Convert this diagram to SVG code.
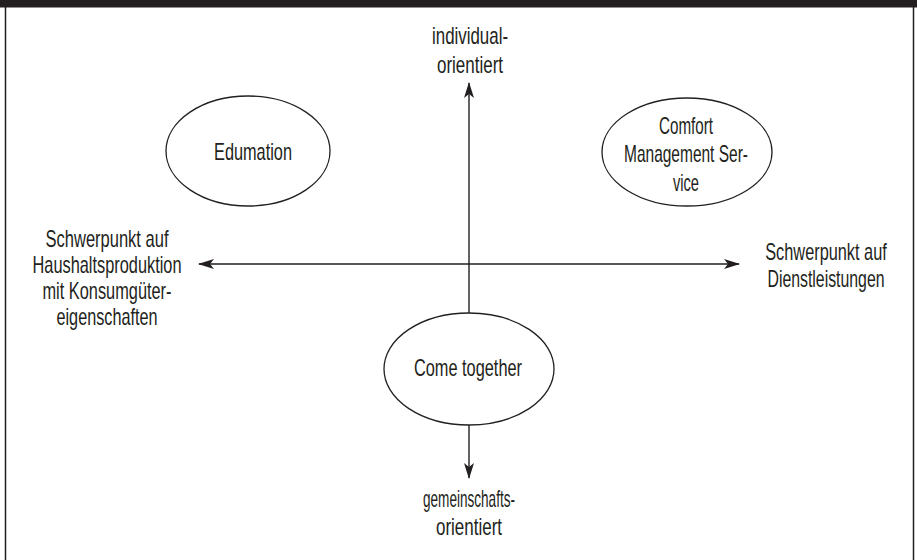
<svg xmlns="http://www.w3.org/2000/svg" width="917" height="560" viewBox="0 0 917 560">
  <style>
    .t { font-family: "Liberation Sans", Arial, sans-serif; font-size: 24px; fill: #231f20; text-anchor: middle; }
    .n { fill: #ffffff; stroke: #231f20; stroke-width: 1.3; }
    .c { fill: none; stroke: #231f20; stroke-width: 1.4; }
  </style>
  <defs>
    <marker id="ah" viewBox="0 0 16 10" refX="15" refY="5" markerWidth="16" markerHeight="10" markerUnits="userSpaceOnUse" orient="auto">
      <path d="M0,0 L16,5 L0,10 L4,5 Z" fill="#231f20"/>
    </marker>
  </defs>
  <rect x="0" y="0" width="917" height="560" fill="#ffffff"/>
  <rect x="0" y="0" width="917" height="7.5" fill="#231f20"/>
  <line x1="5.5" y1="7" x2="5.5" y2="560" stroke="#231f20" stroke-width="1.5"/>
  <line x1="913.5" y1="7" x2="913.5" y2="560" stroke="#231f20" stroke-width="1.5"/>

  <g id="connectors">
    <line class="c" x1="469" y1="313" x2="469" y2="83" marker-end="url(#ah)"/>
    <line class="c" x1="469" y1="425" x2="469" y2="478" marker-end="url(#ah)"/>
    <line class="c" x1="469" y1="264" x2="199" y2="264" marker-end="url(#ah)"/>
    <line class="c" x1="469" y1="264" x2="739" y2="264" marker-end="url(#ah)"/>
  </g>

  <g id="label-top">
    <text class="t" x="470" y="44" textLength="76" lengthAdjust="spacingAndGlyphs">individual-</text>
    <text class="t" x="470" y="73" textLength="66" lengthAdjust="spacingAndGlyphs">orientiert</text>
  </g>
  <g id="label-bottom">
    <text class="t" x="469" y="507" textLength="92" lengthAdjust="spacingAndGlyphs">gemeinschafts-</text>
    <text class="t" x="469" y="535" textLength="66" lengthAdjust="spacingAndGlyphs">orientiert</text>
  </g>
  <g id="label-left">
    <text class="t" x="107" y="247" textLength="123" lengthAdjust="spacingAndGlyphs">Schwerpunkt auf</text>
    <text class="t" x="107" y="273" textLength="149" lengthAdjust="spacingAndGlyphs">Haushaltsproduktion</text>
    <text class="t" x="107" y="299" textLength="129" lengthAdjust="spacingAndGlyphs">mit Konsumgüter-</text>
    <text class="t" x="107" y="325" textLength="101" lengthAdjust="spacingAndGlyphs">eigenschaften</text>
  </g>
  <g id="label-right">
    <text class="t" transform="translate(826,260) scale(0.68,1)" x="0" y="0">Schwerpunkt auf</text>
    <text class="t" transform="translate(826,287) scale(0.66,1)" x="0" y="0">Dienstleistungen</text>
  </g>

  <g id="edumation">
    <ellipse class="n" cx="248" cy="151" rx="82" ry="55"/>
    <text class="t" x="253" y="160" textLength="78" lengthAdjust="spacingAndGlyphs">Edumation</text>
  </g>
  <g id="comfort">
    <ellipse class="n" cx="687" cy="152" rx="85" ry="54"/>
    <text class="t" x="686" y="134" textLength="54" lengthAdjust="spacingAndGlyphs">Comfort</text>
    <text class="t" x="686" y="162" textLength="124" lengthAdjust="spacingAndGlyphs">Management Ser-</text>
    <text class="t" x="686" y="191" textLength="26" lengthAdjust="spacingAndGlyphs">vice</text>
  </g>
  <g id="come-together">
    <ellipse class="n" cx="469" cy="369" rx="85" ry="56"/>
    <text class="t" x="468" y="376" textLength="108" lengthAdjust="spacingAndGlyphs">Come together</text>
  </g>
</svg>
